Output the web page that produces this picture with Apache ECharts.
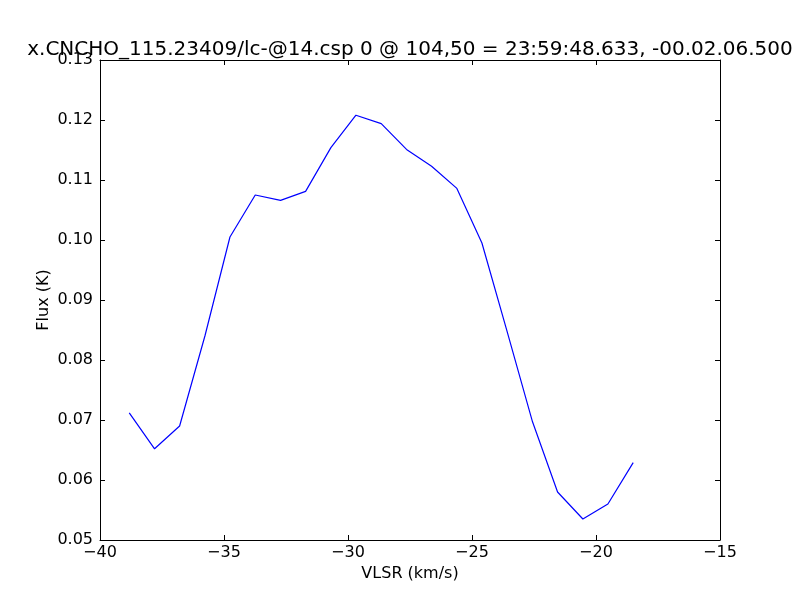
<!DOCTYPE html>
<html>
<head>
<meta charset="utf-8">
<script src="https://cdn.jsdelivr.net/npm/echarts@6/dist/echarts.min.js"></script>
<style>
html,body{margin:0;padding:0;background:#fff;}
#chart{width:800px;height:600px;}
</style>
</head>
<body>
<div id="chart"></div>
<script>
// Data
var titleText = "x.CNCHO_115.23409/lc-@14.csp 0 @ 104,50 = 23:59:48.633, -00.02.06.500";
var xAxisName = "VLSR (km/s)";
var yAxisName = "Flux (K)";
var velocity = [-38.82, -37.80, -36.79, -35.77, -34.76, -33.74, -32.72, -31.71, -30.69, -29.68,
                -28.66, -27.64, -26.63, -25.61, -24.60, -23.58, -22.56, -21.55, -20.53, -19.52, -18.50];
var flux = [0.0712, 0.0652, 0.0690, 0.0840, 0.1005, 0.1075, 0.1066, 0.1081, 0.1154, 0.1208,
            0.1194, 0.1151, 0.1123, 0.1086, 0.0995, 0.0847, 0.0697, 0.0580, 0.0535, 0.0560, 0.0629];

var points = velocity.map(function (v, i) { return [v, flux[i]]; });
var font = "DejaVu Sans";

var chart = echarts.init(document.getElementById('chart'), null, {renderer: 'canvas'});
function minusFmt(v) { return String(v).replace('-', '\u2212'); }
var common = {
  axisLine: {show: true, onZero: false, lineStyle: {color: '#000', width: 1}},
  axisTick: {show: true, inside: true, length: 5, lineStyle: {color: '#000', width: 1}},
  splitLine: {show: false}
};
chart.setOption({
  animation: false,
  backgroundColor: '#fff',
  title: {
    text: titleText,
    left: 405, top: 35,
    textAlign: 'center',
    textStyle: {fontFamily: font, fontSize: 20, fontWeight: 'normal', color: '#000'}
  },
  grid: {left: 100, right: 80, top: 60, bottom: 60, containLabel: false},
  xAxis: [
    Object.assign({
      type: 'value', min: -40, max: -15, interval: 5, position: 'bottom',
      name: xAxisName, nameLocation: 'middle', nameGap: 24,
      nameTextStyle: {fontFamily: font, fontSize: 16, color: '#000'},
      axisLabel: {fontFamily: font, fontSize: 16, color: '#000', margin: 5, formatter: minusFmt}
    }, common),
    Object.assign({
      type: 'value', min: -40, max: -15, interval: 5, position: 'top',
      axisLabel: {show: false}
    }, common)
  ],
  yAxis: [
    Object.assign({
      type: 'value', min: 0.05, max: 0.13, interval: 0.01, position: 'left',
      name: yAxisName, nameLocation: 'middle', nameGap: 48, nameRotate: 90,
      nameMoveOverlap: false,
      nameTextStyle: {fontFamily: font, fontSize: 16, color: '#000'},
      axisLabel: {fontFamily: font, fontSize: 16, color: '#000', margin: 7,
        formatter: function (v) { return v.toFixed(2); }}
    }, common),
    Object.assign({
      type: 'value', min: 0.05, max: 0.13, interval: 0.01, position: 'right',
      axisLabel: {show: false}
    }, common)
  ],
  series: [{
    type: 'line',
    data: points,
    xAxisIndex: 0, yAxisIndex: 0,
    showSymbol: false,
    lineStyle: {color: '#0000ff', width: 1.2},
    itemStyle: {color: '#0000ff'}
  }]
});
</script>
</body>
</html>
